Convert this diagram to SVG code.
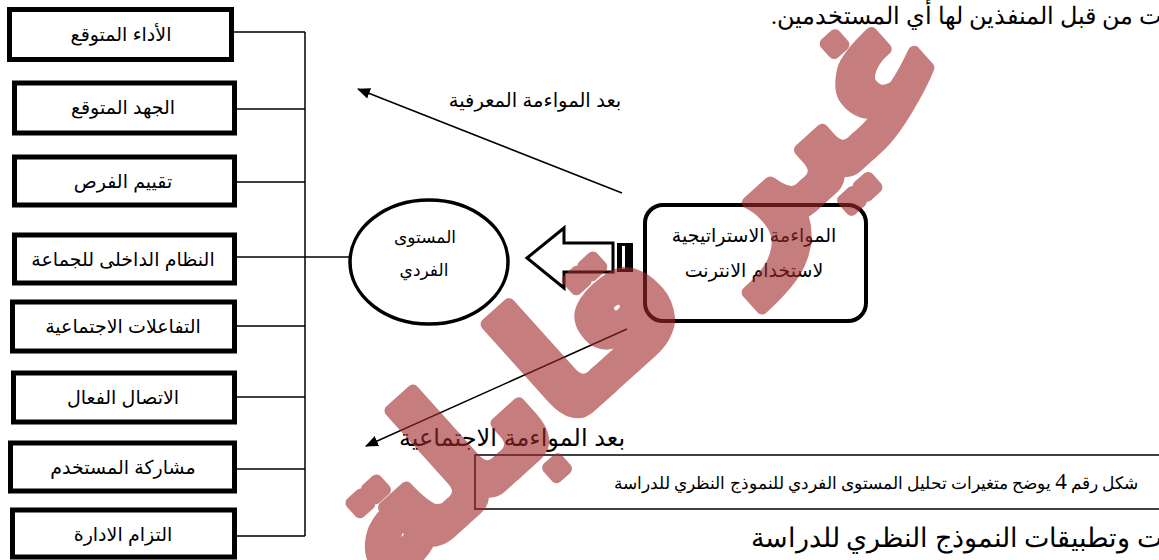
<svg xmlns="http://www.w3.org/2000/svg" width="1159" height="560" viewBox="0 0 1159 560">
<style>
.box{fill:#fff;stroke:#000;stroke-width:5}
.lbl{font-family:"Liberation Sans","DejaVu Sans",sans-serif;font-size:19px;fill:#000;text-anchor:middle}
.ser{font-family:"Liberation Serif","DejaVu Serif",serif;fill:#000}
.conn{fill:none;stroke:#000;stroke-width:1.5}
.wm{font-family:"DejaVu Sans",sans-serif;font-weight:bold;fill:rgb(160,40,40);stroke:rgb(160,40,40);stroke-width:12;stroke-linejoin:round}
</style>
<defs>
<marker id="ah" markerWidth="13" markerHeight="11" refX="12" refY="5.5" orient="auto" markerUnits="userSpaceOnUse">
<path d="M0,0 L13,5.5 L0,11 Z" fill="#000"/>
</marker>
</defs>
<rect width="1159" height="560" fill="#fff"/>

<g id="topText"><text class="ser" x="1162" y="24" font-size="24" direction="rtl" text-anchor="start">ت من قبل المنفذين لها أي المستخدمين.</text></g>
<g id="bottomText"><text class="ser" x="1162" y="547" font-size="26.5" direction="rtl" text-anchor="start">ت وتطبيقات النموذج النظري للدراسة</text></g>

<g id="connectors">
<path class="conn" d="M233,32 H305 M237,109 H305 M237,182 H305 M237,257 H350 M237,326 H305 M237,397 H305 M237,469 H305 M237,536 H305 M305,32 V536"/>
<line x1="622" y1="193" x2="358" y2="89" stroke="#000" stroke-width="1.5" marker-end="url(#ah)"/>
<line x1="627" y1="329" x2="366" y2="446" stroke="#000" stroke-width="1.5" marker-end="url(#ah)"/>
</g>

<g id="n1"><rect class="box" x="9.5" y="9.5" width="222" height="50"/><text class="lbl" x="121" y="41">الأداء المتوقع</text></g>
<g id="n2"><rect class="box" x="14.5" y="83" width="220" height="50"/><text class="lbl" x="123" y="114">الجهد المتوقع</text></g>
<g id="n3"><rect class="box" x="14.5" y="157" width="220" height="48"/><text class="lbl" x="123" y="188">تقييم الفرص</text></g>
<g id="n4"><rect class="box" x="14.5" y="235" width="220" height="48"/><text class="lbl" x="123" y="266">النظام الداخلى للجماعة</text></g>
<g id="n5"><rect class="box" x="12.5" y="302" width="222" height="49"/><text class="lbl" x="123" y="333">التفاعلات الاجتماعية</text></g>
<g id="n6"><rect class="box" x="13.5" y="373" width="221" height="49"/><text class="lbl" x="123" y="404">الاتصال الفعال</text></g>
<g id="n7"><rect class="box" x="10.5" y="443" width="224" height="48"/><text class="lbl" x="123" y="474">مشاركة المستخدم</text></g>
<g id="n8"><rect class="box" x="12.5" y="510" width="222" height="47"/><text class="lbl" x="123" y="541">التزام الادارة</text></g>

<g id="circle"><ellipse cx="429" cy="262" rx="79" ry="62" fill="#fff" stroke="#000" stroke-width="3.5"/>
<text class="lbl" x="425" y="243" style="font-size:17px">المستوى</text><text class="lbl" x="424" y="276" style="font-size:17px">الفردي</text></g>

<g id="blockArrow">
<path d="M527,258 L564,228 L564,243 L613,243 L613,272 L564,272 L564,288 Z" fill="#fff" stroke="#000" stroke-width="3"/>
<rect x="617" y="243" width="16" height="29" fill="#000"/>
<rect x="622" y="246" width="3" height="23" fill="#fff"/>
</g>

<g id="strategy"><rect x="645" y="205" width="221" height="116" rx="18" fill="#fff" stroke="#000" stroke-width="4"/>
<text class="lbl" x="754" y="242">المواءمة الاستراتيجية</text>
<text class="lbl" x="754" y="277">لاستخدام الانترنت</text></g>

<g id="labels">
<text class="lbl" x="535" y="107" style="font-size:19.5px">بعد المواءمة المعرفية</text>
<text class="lbl" x="512" y="446" style="font-size:24px">بعد المواءمة الاجتماعية</text>
</g>

<g id="caption"><rect x="475" y="455" width="690" height="54" fill="#fff" stroke="#000" stroke-width="1.5"/>
<text class="ser" x="1138" y="489" font-size="16.5" direction="rtl" text-anchor="start">شكل رقم <tspan font-size="23">4</tspan>   يوضح متغيرات تحليل المستوى الفردي للنموذج النظري للدراسة</text></g>

<g id="watermark" opacity="0.6"><text class="wm" x="640" y="330" font-size="172" text-anchor="middle" transform="rotate(-42 660 290)">غير قابلة</text></g>
</svg>
